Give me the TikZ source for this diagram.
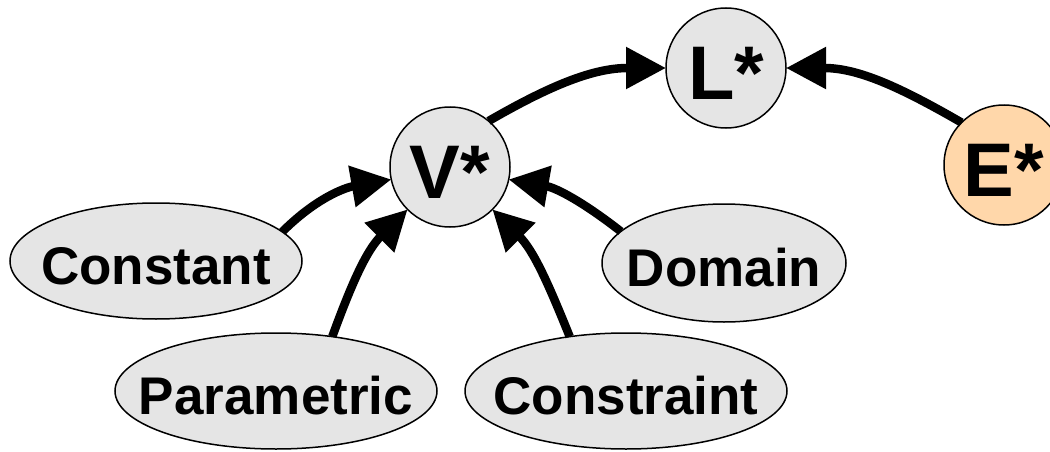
\documentclass[tikz,border=0pt]{standalone}
\usepackage{fontspec}
\setmainfont{Liberation Sans}
\usetikzlibrary{shapes.geometric,arrows.meta}
\definecolor{nodegray}{RGB}{229,229,229}
\definecolor{peach}{RGB}{255,215,170}
\tikzset{
  star/.style={circle, draw=black, line width=1.5pt, fill=nodegray,
    minimum size=120pt, inner sep=0pt, outer sep=0pt,
    font=\fontsize{76}{80}\selectfont\bfseries, text height=62pt, text depth=0pt},
  oval/.style={ellipse, draw=black, line width=1.5pt, fill=nodegray,
    inner sep=0pt, outer sep=0pt},
  lbl/.style={inner sep=0pt, font=\fontsize{53}{60}\selectfont\bfseries,
    text height=46pt, text depth=0pt},
  link/.style={line width=8.5pt, -{Triangle[length=40pt,width=40pt]}}
}
\begin{document}
\begin{tikzpicture}[x=1pt,y=1pt]
  \useasboundingbox (0,0) rectangle (1050,451);
  \clip (0,0) rectangle (1050,451);

  % central concept nodes
  \node[star] (L) at (726,383) {L*};
  \node[star] (V) at (450,284) {V*};
  \node[star, fill=peach] (E) at (1004,286) {E*};

  % value sources
  \node[oval, minimum width=292pt, minimum height=116pt] (C) at (156,190) {};
  \node[lbl] at (C) {Constant};
  \node[oval, minimum width=244pt, minimum height=118pt] (D) at (724,188) {};
  \node[lbl] at (D) {Domain};
  \node[oval, minimum width=322pt, minimum height=116pt] (P) at (276,60) {};
  \node[lbl] at (P) {Parametric};
  \node[oval, minimum width=322pt, minimum height=116pt] (K) at (626,60) {};
  \node[lbl] at (K) {Constraint};

  % connectors
  \draw[link] (V.50) to[out=30,in=180] (L.west);
  \draw[link] (E.135) to[out=150,in=0] (L.east);
  \draw[link] (C.13) to[out=45,in=190] (V.192);
  \draw[link] (P.44) to[out=70,in=225] (V.225);
  \draw[link] (K.136) to[out=112,in=315] (V.315);
  \draw[link] (D.163) to[out=142,in=-10] (V.348);
\end{tikzpicture}
\end{document}
